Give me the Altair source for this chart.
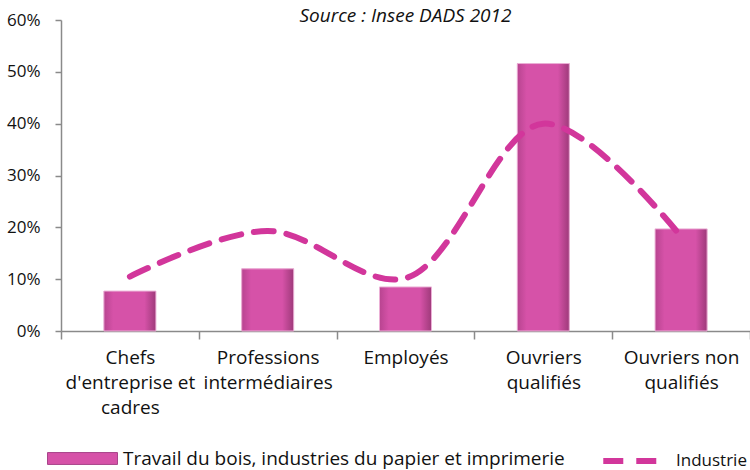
import altair as alt
import pandas as pd

categories = ["Chefs|d'entreprise et|cadres", "Professions|intermédiaires", "Employés",
              "Ouvriers|qualifiés", "Ouvriers non|qualifiés"]
bois = [7.7, 12.0, 8.5, 51.6, 19.7]
industrie = [10.5, 19.3, 10.2, 40.0, 18.2]
y_ticks = [0, 10, 20, 30, 40, 50, 60]
series_bar = "Travail du bois, industries du papier et imprimerie"
series_line = "Industrie"
title_text = "Source : Insee DADS 2012"

FONT = "Open Sans"
BAR = "#D652A8"
LINE = "#D2369B"

df = pd.DataFrame({"cat": categories, "bois": bois, "industrie": industrie})
df["s_bar"] = series_bar
df["s_line"] = series_line

x_enc = alt.X("cat:N", sort=categories, title=None,
              scale=alt.Scale(paddingInner=0, paddingOuter=0),
              axis=alt.Axis(labelExpr="split(datum.label, '|')", labelAngle=0,
                            tickBand="extent", tickSize=8, tickColor="#8a8a8a",
                            domainColor="#8a8a8a", domainWidth=1.5, tickWidth=1.5,
                            labelFont=FONT, labelFontSize=19, labelColor="#111",
                            labelLineHeight=25, labelPadding=9, labelBaseline="top",
                            labelLimit=0))
y_scale = alt.Scale(domain=[0, 60], nice=False)
y_axis = alt.Axis(values=y_ticks, labelExpr="datum.value + '%'", grid=False,
                  tickSize=6, tickColor="#8a8a8a", domainColor="#8a8a8a",
                  domainWidth=1.5, tickWidth=1.5, labelFont=FONT, labelFontSize=17,
                  labelColor="#111", labelPadding=15, title=None)

base = alt.Chart(df)

bar_legend = base.mark_bar(size=52).encode(
    x=x_enc,
    y=alt.Y("bois:Q", scale=y_scale, axis=y_axis),
    color=alt.Color("s_bar:N", scale=alt.Scale(range=[BAR]),
                    legend=alt.Legend(title=None, orient="none", legendX=-14, legendY=403,
                                      symbolType="M-1,-0.17L1,-0.17L1,0.17L-1,0.17Z",
                                      symbolSize=4900, symbolStrokeColor="#A8448A",
                                      symbolStrokeWidth=1, symbolOpacity=1,
                                      labelFont=FONT, labelFontSize=19, labelColor="#111",
                                      labelOffset=5, labelLimit=0)),
)

bar_grad = base.mark_bar(
    size=52,
    color=alt.Gradient(gradient="linear", x1=0, x2=1, y1=0, y2=0,
                       stops=[alt.GradientStop(color="#B84490", offset=0),
                              alt.GradientStop(color="#D652A8", offset=0.18),
                              alt.GradientStop(color="#D652A8", offset=0.78),
                              alt.GradientStop(color="#9E3A7A", offset=1)]),
    stroke="#EBB0D6", strokeWidth=1,
).encode(
    x=alt.X("cat:N", sort=categories),
    y=alt.Y("bois:Q", scale=y_scale),
)

line = base.mark_line(interpolate="catmull-rom", strokeWidth=6, strokeCap="round",
                      color=LINE).encode(
    x=alt.X("cat:N", sort=categories),
    y=alt.Y("industrie:Q", scale=y_scale),
    strokeDash=alt.StrokeDash("s_line:N", scale=alt.Scale(range=[[20, 13]]),
                              legend=alt.Legend(title=None, orient="none", legendX=539,
                                                legendY=409, symbolType="stroke",
                                                symbolSize=3300, symbolStrokeColor=LINE,
                                                symbolStrokeWidth=6,
                                                labelFont=FONT, labelFontSize=17,
                                                labelColor="#111", labelOffset=12,
                                                labelLimit=0)),
)

chart = alt.layer(bar_legend, bar_grad, line).properties(
    width=689, height=311,
    title=alt.TitleParams(title_text, font=FONT, fontSize=19, fontStyle="italic",
                          fontWeight="normal", color="#111", anchor="middle", offset=-15),
    autosize=alt.AutoSizeParams(type="none"),
    padding={"left": 61, "top": 20, "right": 0, "bottom": 139},
).configure_view(stroke=None)

chart.save("out.html", embed_options={"renderer": "svg", "actions": False})
